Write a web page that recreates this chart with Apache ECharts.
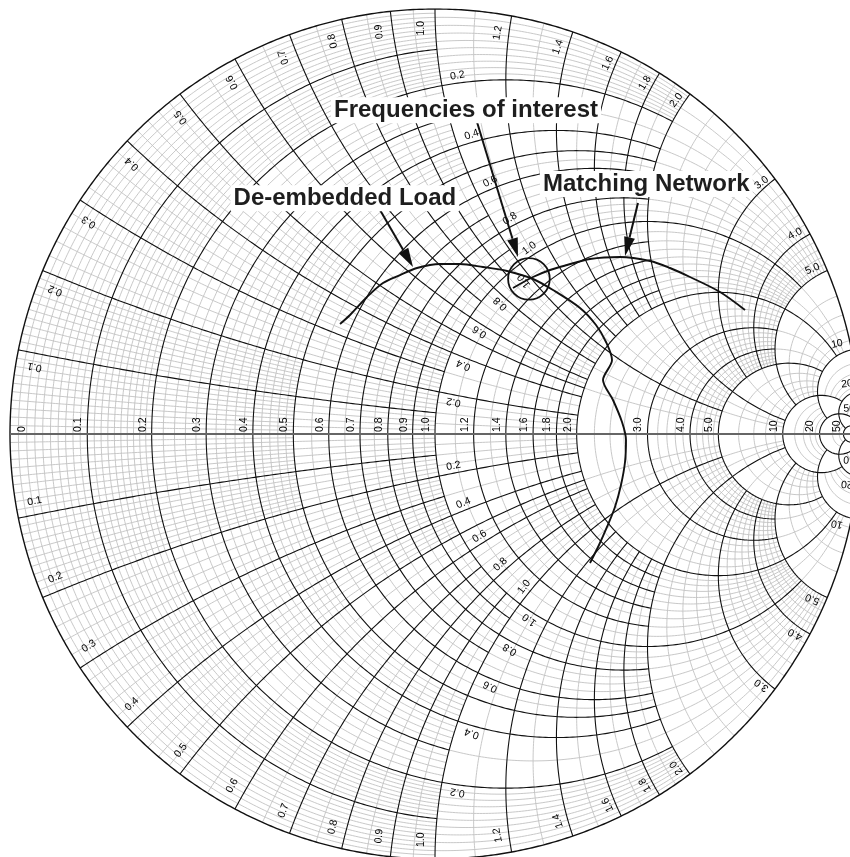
<!DOCTYPE html>
<html>
<head>
<meta charset="utf-8">
<script src="https://cdn.jsdelivr.net/npm/echarts/dist/echarts.min.js"></script>
<style>
  html, body { margin: 0; padding: 0; background: #ffffff; overflow: hidden; }
  #chart { width: 870px; height: 857px; }
</style>
</head>
<body>
<div id="chart"></div>
<script>
// ---------------- chart values ----------------
// labelled resistance circles / reactance arcs (same set for both)
const majorValues = [0.1, 0.2, 0.3, 0.4, 0.5, 0.6, 0.7, 0.8, 0.9, 1.0, 1.2, 1.4, 1.6, 1.8, 2.0, 3.0, 4.0, 5.0, 10, 20, 50];
const majorText   = ['0.1', '0.2', '0.3', '0.4', '0.5', '0.6', '0.7', '0.8', '0.9', '1.0', '1.2', '1.4', '1.6', '1.8', '2.0', '3.0', '4.0', '5.0', '10', '20', '50'];
// how far each labelled line stays black, measured in the other coordinate
const majorReach  = [1, 2, 1, 2, 2, 2, 1, 2, 1, 5, 2, 2, 2, 2, 10, 5, 5, 10, 20, 50, Infinity];
// fine-grid bands and the finest step used inside each band
const bandEdges = [0, 0.2, 0.5, 1, 2, 5, 10, 20, 50];
const bandSteps = [0.01, 0.02, 0.05, 0.1, 0.2, 1, 2, 10];
// values printed inside the chart along x = ±1 and along r = 1
const innerLabelValues = [0.2, 0.4, 0.6, 0.8, 1.0];
const innerLabelText   = ['0.2', '0.4', '0.6', '0.8', '1.0'];

// de-embedded load trace, reflection coefficient (real, imaginary)
const loadRe = [-0.2235, -0.2000, -0.1600, -0.1224, -0.0824, -0.0424, 0.0118, 0.0588, 0.1129, 0.1694, 0.2306, 0.2776, 0.3412, 0.3788, 0.4024, 0.4165, 0.3953, 0.4188, 0.4400, 0.4494, 0.4471, 0.4376, 0.4235, 0.4047, 0.3859, 0.3647];
const loadIm = [0.2588, 0.2800, 0.3224, 0.3553, 0.3741, 0.3906, 0.4000, 0.4000, 0.3929, 0.3835, 0.3647, 0.3388, 0.2965, 0.2565, 0.2165, 0.1741, 0.1271, 0.0800, 0.0282, -0.0141, -0.0659, -0.1200, -0.1718, -0.2188, -0.2612, -0.3035];
// matching network trace
const matchRe = [0.1835, 0.2306, 0.2706, 0.3106, 0.3647, 0.4353, 0.5059, 0.5529, 0.6000, 0.6706, 0.7294];
const matchIm = [0.3435, 0.3694, 0.3859, 0.3976, 0.4118, 0.4165, 0.4071, 0.3906, 0.3694, 0.3341, 0.2918];
// ring around the frequencies of interest
const ringCentre = [0.221, 0.365];
const ringRadius = 0.049;
// call-outs
const noteText  = ['Frequencies of interest', 'De-embedded Load', 'Matching Network'];
const noteAt    = [[0.073, 0.762], [-0.212, 0.555], [0.497, 0.588]];
const arrowFrom = [[0.0988, 0.7341], [-0.1294, 0.5271], [0.4776, 0.5435]];
const arrowTo   = [[0.1953, 0.4165], [-0.0518, 0.3929], [0.4471, 0.4188]];

// ---------------- layout ----------------
const R_PX = 425;            // chart radius in pixels
const CENTRE_PX = [435, 434];
const PX = 1 / R_PX;         // one pixel in reflection-coefficient units
const MIN_GAP = 4.5;         // smallest spacing allowed for fine grid lines (px)

// point on resistance circle r, parameter a = atan(x / (r + 1))
function rPoint(r, a) { const k = 2 * Math.cos(a) / (r + 1); return [1 - k * Math.cos(a), k * Math.sin(a)]; }
// point on reactance arc w, parameter a = atan2(w, r + 1)
function xPoint(w, a) { const k = 2 * Math.sin(a) / w; return [1 - k * Math.cos(a), k * Math.sin(a)]; }
function gamma(r, x) { const zr = r + 1, d = zr * zr + x * x; return [1 - 2 * zr / d, 2 * x / d]; }

function rCircle(r, x1, x2) {
  const a1 = Math.atan(x1 / (r + 1)), a2 = Math.atan(x2 / (r + 1));
  const len = 2 * R_PX * Math.abs(a2 - a1) / (r + 1);
  const n = Math.max(2, Math.ceil(len / 3));
  const pts = [];
  for (let i = 0; i <= n; i++) pts.push(rPoint(r, a1 + (a2 - a1) * i / n));
  return pts;
}
function xArc(w, r1, r2) {
  const a1 = Math.atan2(w, r1 + 1), a2 = Math.atan2(w, r2 + 1);
  const len = 2 * R_PX * Math.abs(a2 - a1) / Math.abs(w);
  const n = Math.max(2, Math.ceil(len / 3));
  const pts = [];
  for (let i = 0; i <= n; i++) pts.push(xPoint(w, a1 + (a2 - a1) * i / n));
  return pts;
}

function majorIndex(v) { return majorValues.findIndex(m => Math.abs(m - v) < 1e-9); }

function pickStep(base, width, pxPerUnit) {
  for (const m of [1, 2, 5, 10, 20, 50, 100]) {
    const s = base * m;
    if (s >= width - 1e-9) return 0;
    const n = width / s;
    if (Math.abs(n - Math.round(n)) > 1e-6) continue;
    if (s * pxPerUnit >= MIN_GAP) return s;
  }
  return 0;
}

// ---------------- grid lines ----------------
const fineLines = [];
const boldLines = [];

function addR(list, v, x1, x2) {
  if (x2 <= x1) return;
  list.push(rCircle(v, x1, x2));
  list.push(rCircle(v, -x2, -x1));
}
function addX(list, w, r1, r2) {
  if (r2 <= r1) return;
  list.push(xArc(w, r1, r2));
  list.push(xArc(-w, r1, r2));
}

const nb = bandEdges.length - 1;
for (let i = 0; i < nb; i++) {
  for (let j = 0; j < nb; j++) {
    const r0 = bandEdges[i], r1 = bandEdges[i + 1];
    const x0 = bandEdges[j], x1 = bandEdges[j + 1];
    const rc = (r0 + r1) / 2, xc = (x0 + x1) / 2;
    const pxPerUnit = 2 * R_PX / ((rc + 1) * (rc + 1) + xc * xc);
    // resistance circles inside band i, clipped to reactance band j
    const sr = pickStep(bandSteps[i], r1 - r0, pxPerUnit);
    if (sr > 0) {
      const n = Math.round((r1 - r0) / sr);
      for (let k = (i === 0 ? 1 : 0); k < n; k++) {
        const v = +(r0 + k * sr).toFixed(6);
        const mi = majorIndex(v);
        if (mi >= 0) addR(fineLines, v, Math.max(x0, majorReach[mi]), x1);
        else addR(fineLines, v, x0, x1);
      }
    }
    // reactance arcs inside band j, clipped to resistance band i
    const sx = pickStep(bandSteps[j], x1 - x0, pxPerUnit);
    if (sx > 0) {
      const n = Math.round((x1 - x0) / sx);
      for (let k = (j === 0 ? 1 : 0); k < n; k++) {
        const w = +(x0 + k * sx).toFixed(6);
        const mi = majorIndex(w);
        if (mi >= 0) addX(fineLines, w, Math.max(r0, majorReach[mi]), r1);
        else addX(fineLines, w, r0, r1);
      }
    }
  }
}
majorValues.forEach((v, idx) => {
  const reach = majorReach[idx];
  boldLines.push(rCircle(v, -reach, reach));
  addX(boldLines, v, 0, reach);
});
const rimLine = [rCircle(0, -Infinity, Infinity)];
const axisLine = [[[-1, 0], [1, 0]]];

// ---------------- scale labels ----------------
const tickLabels = [];
function pushLabel(text, pos, rot, align) {
  tickLabels.push({ text, pos, rot, align: align || 'center' });
}
// resistance values along the real axis
pushLabel('0', [-1 + 12 * PX, 2 * PX], 90, 'left');
majorValues.forEach((v, idx) => {
  const g = (v - 1) / (v + 1);
  pushLabel(majorText[idx], [g - (v >= 50 ? 6 : 9) * PX, 2 * PX], 90, 'left');
});
// reactance values around the rim: inset from the rim and turn towards the axis side
function rimInset(v) { return v <= 1.4 ? 19 : v <= 1.8 ? 16 : v <= 10 ? 13 : 10; }
function rimTurn(v) { return v <= 1 ? 1.9 : v <= 1.2 ? 1.5 : v <= 1.4 ? 1.3 : v <= 2 ? 1.0 : v <= 3 ? 0.7 : v <= 5 ? 1.0 : 1.2; }
majorValues.forEach((v, idx) => {
  const theta = Math.PI - 2 * Math.atan(v);
  const rho = 1 - rimInset(v) * PX;
  const phi = theta + rimTurn(v) * Math.PI / 180;
  const rotTop = theta * 180 / Math.PI;
  pushLabel(majorText[idx], [rho * Math.cos(phi), rho * Math.sin(phi)], rotTop);
  pushLabel(majorText[idx], [rho * Math.cos(phi), -rho * Math.sin(phi)], 180 - rotTop);
});
function unit(a, b) { const dx = b[0] - a[0], dy = b[1] - a[1], l = Math.hypot(dx, dy); return [dx / l, dy / l]; }
// resistance values printed along x = +1 / -1
innerLabelValues.forEach((v, idx) => {
  const p = gamma(v, 1);
  const t = unit(p, gamma(v, 1 + 1e-4));      // direction of growing reactance
  const nrm = unit(p, gamma(v - 1e-4, 1));    // towards smaller resistance
  const pos = [p[0] + (17 * t[0] + 7 * nrm[0]) * PX, p[1] + (17 * t[1] + 7 * nrm[1]) * PX];
  const rot = Math.atan2(t[1], t[0]) * 180 / Math.PI;
  pushLabel(innerLabelText[idx], pos, rot);
  pushLabel(innerLabelText[idx], [pos[0], -pos[1]], 180 - rot);
});
// reactance values printed along r = 1
innerLabelValues.forEach((v, idx) => {
  const p = gamma(1, v);
  const t = unit(p, gamma(1 + 1e-4, v));      // direction of growing resistance
  const nrm = unit(p, gamma(1, v - 1e-4));    // towards smaller reactance
  const pos = [p[0] + (16 * t[0] + 7 * nrm[0]) * PX, p[1] + (16 * t[1] + 7 * nrm[1]) * PX];
  const rot = Math.atan2(t[1], t[0]) * 180 / Math.PI + 180;
  pushLabel(innerLabelText[idx], pos, rot);
  pushLabel(innerLabelText[idx], [pos[0], -pos[1]], 180 - rot);
});

// ---------------- series ----------------
const FONT = '"Liberation Sans", Arial, Helvetica, sans-serif';
const linesSeries = (data, color, width, z) => ({
  type: 'lines', coordinateSystem: 'cartesian2d', polyline: true, silent: true, z,
  lineStyle: { color, width, opacity: 1 },
  data: data.map(c => ({ coords: c }))
});
const hiddenDot = { color: 'rgba(0,0,0,0)', opacity: 1 };

const chart = echarts.init(document.getElementById('chart'), null, { renderer: 'canvas' });
chart.setOption({
  animation: false,
  backgroundColor: '#ffffff',
  grid: {
    left: CENTRE_PX[0] - R_PX, top: CENTRE_PX[1] - R_PX, width: 2 * R_PX, height: 2 * R_PX,
    outerBoundsMode: 'none', containLabel: false
  },
  xAxis: { type: 'value', min: -1, max: 1, show: false },
  yAxis: { type: 'value', min: -1, max: 1, show: false },
  series: [
    linesSeries(fineLines, '#c2c2c2', 0.9, 1),
    linesSeries(boldLines, '#111111', 1.1, 2),
    linesSeries(rimLine, '#111111', 1.4, 3),
    linesSeries(axisLine, '#666666', 1.8, 3),
    {
      type: 'scatter', silent: true, z: 4, symbolSize: 1,
      itemStyle: hiddenDot,
      data: tickLabels.map(l => ({
        value: l.pos,
        label: {
          show: true, position: [0.5, 0.5], formatter: l.text, rotate: l.rot,
          align: l.align, verticalAlign: 'middle', opacity: 1,
          fontSize: 10.5, fontFamily: FONT, color: '#000000', textBorderWidth: 0
        }
      }))
    },
    {
      type: 'line', silent: true, z: 5, showSymbol: false, smooth: 0.3,
      lineStyle: { color: '#111111', width: 1.9 },
      data: loadRe.map((re, i) => [re, loadIm[i]])
    },
    {
      type: 'line', silent: true, z: 5, showSymbol: false, smooth: 0.3,
      lineStyle: { color: '#111111', width: 1.9 },
      data: matchRe.map((re, i) => [re, matchIm[i]])
    },
    {
      type: 'scatter', silent: true, z: 5, symbol: 'circle',
      symbolSize: 2 * ringRadius * R_PX,
      itemStyle: { color: 'rgba(0,0,0,0)', opacity: 1, borderColor: '#111111', borderWidth: 1.8 },
      data: [ringCentre]
    },
    {
      type: 'custom', silent: true, z: 6,
      data: arrowFrom.map((a, i) => [a[0], a[1], arrowTo[i][0], arrowTo[i][1]]),
      renderItem: (params, api) => {
        const p0 = api.coord([api.value(0), api.value(1)]);
        const p1 = api.coord([api.value(2), api.value(3)]);
        const dx = p1[0] - p0[0], dy = p1[1] - p0[1], l = Math.hypot(dx, dy);
        const ux = dx / l, uy = dy / l, headLen = 19, headHalf = 5.5;
        const bx = p1[0] - ux * headLen, by = p1[1] - uy * headLen;
        return {
          type: 'group', children: [
            { type: 'line', shape: { x1: p0[0], y1: p0[1], x2: bx, y2: by }, style: { stroke: '#111111', lineWidth: 2 } },
            { type: 'polygon', shape: { points: [[p1[0], p1[1]], [bx - uy * headHalf, by + ux * headHalf], [bx + uy * headHalf, by - ux * headHalf]] }, style: { fill: '#111111' } }
          ]
        };
      }
    },
    {
      type: 'scatter', silent: true, z: 7, symbolSize: 1,
      itemStyle: hiddenDot,
      data: noteAt.map((p, i) => ({
        value: p,
        label: {
          show: true, position: [0.5, 0.5], formatter: noteText[i],
          align: 'center', verticalAlign: 'middle', opacity: 1,
          fontSize: 24, fontWeight: 'bold', fontFamily: FONT, color: '#1e1e1e',
          textBorderWidth: 0, backgroundColor: '#ffffff', padding: [1, 3]
        }
      }))
    }
  ]
});
</script>
</body>
</html>
